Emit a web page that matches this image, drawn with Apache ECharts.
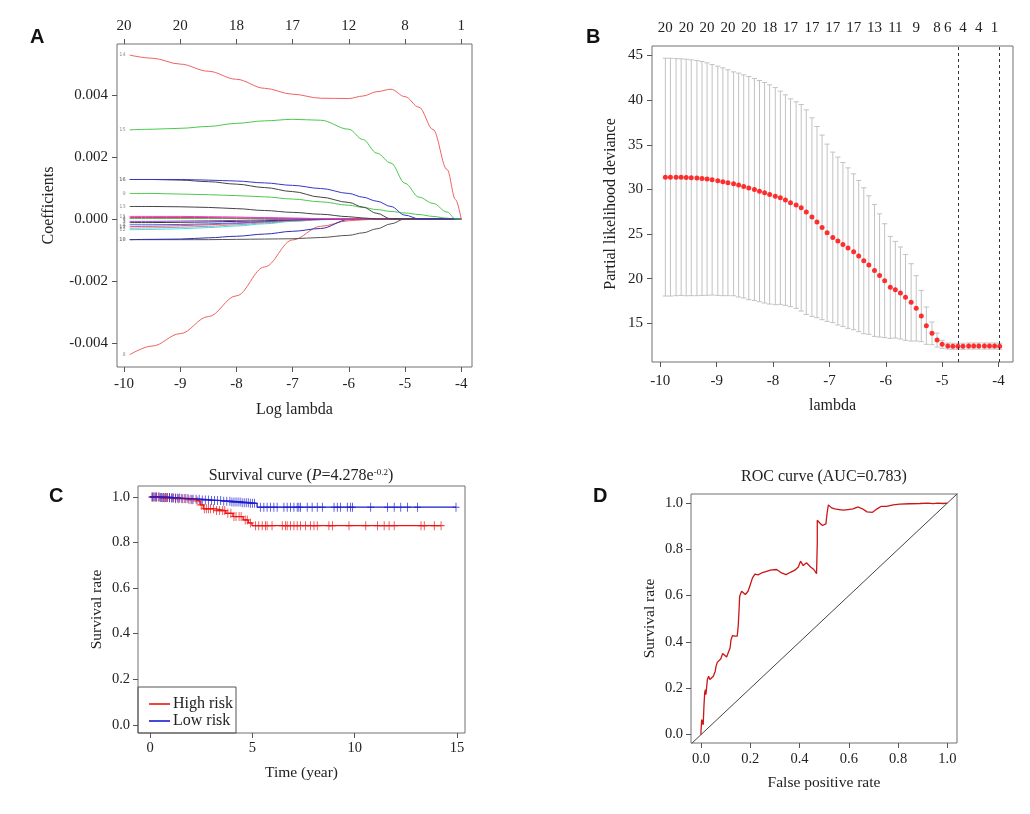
<!DOCTYPE html>
<html><head><meta charset="utf-8">
<script src="https://cdn.jsdelivr.net/npm/echarts@6/dist/echarts.min.js"></script>
<style>html,body{margin:0;padding:0;background:#fff}#c{width:1030px;height:814px}</style>
</head><body><div id="c"></div>
<script>
// ---------- Panel A : LASSO coefficient paths ----------
const logLambdaA = [-9.9,-9.5,-9,-8.5,-8,-7.5,-7,-6.5,-6,-5.75,-5.5,-5.25,-5,-4.75,-4.5,-4.25,-4.1,-4.0];
const coef14 = [0.00528,0.00518,0.00499,0.00476,0.00450,0.00421,0.00402,0.00389,0.00388,0.00396,0.00410,0.00418,0.00394,0.00360,0.00288,0.00159,0.00062,0];
const coef15 = [0.00287,0.00289,0.00292,0.00298,0.00308,0.00316,0.00321,0.00318,0.00289,0.00256,0.00212,0.00180,0.00115,0.00070,0.00050,0.00022,0,0];
const coef16a = [0.00127,0.00127,0.00127,0.00125,0.00122,0.00116,0.00108,0.00098,0.00082,0.00070,0.00057,0.00040,0.00012,0,0,0,0,0];
const coef16b = [0.00127,0.00127,0.00125,0.00120,0.00112,0.00101,0.00088,0.00070,0.00053,0.00038,0.00018,0,0,0,0,0,0,0];
const coef9 = [0.00082,0.00082,0.00080,0.00078,0.00075,0.00071,0.00064,0.00055,0.00044,0.00037,0.00030,0.00024,0.00019,0.00014,0.00008,0.00002,0,0];
const coef13 = [0.00040,0.00040,0.00039,0.00037,0.00033,0.00027,0.00021,0.00015,0.00007,0.00003,0,0,0,0,0,0,0,0];
const coef11 = [0.00008,0.00008,0.00008,0.00007,0.00006,0.00004,0.00002,0.00001,0,0,0,0,0,0,0,0,0,0];
const coef1 = [0.00004,0.00004,0.00004,0.00004,0.00003,0.00003,0.00002,0.00001,0,0,0,0,0,0,0,0,0,0];
const coef4 = [0.00001,0.00001,0.00001,0.00001,0.00001,0.00001,0.00001,0.00001,0.00001,0.00001,0.00001,0,0,0,0,0,0,0];
const coef3 = [-0.00008,-0.00008,-0.00007,-0.00006,-0.00005,-0.00003,-0.00001,0,0,0,0,0,0,0,0,0,0,0];
const coef7 = [-0.00012,-0.00012,-0.00011,-0.00010,-0.00008,-0.00006,-0.00003,-0.00001,0,0,0,0,0,0,0,0,0,0];
const coef2 = [-0.00019,-0.00019,-0.00018,-0.00016,-0.00013,-0.00009,-0.00004,-0.00001,0,0,0,0,0,0,0,0,0,0];
const coef19 = [-0.00025,-0.00024,-0.00022,-0.00019,-0.00015,-0.00010,-0.00005,-0.00002,0,0,0,0,0,0,0,0,0,0];
const coef17 = [-0.00030,-0.00029,-0.00027,-0.00024,-0.00019,-0.00013,-0.00007,-0.00002,0,0,0,0,0,0,0,0,0,0];
const coef12 = [-0.00035,-0.00034,-0.00032,-0.00028,-0.00023,-0.00016,-0.00008,-0.00003,0,0,0,0,0,0,0,0,0,0];
const coef18a = [-0.00067,-0.00066,-0.00065,-0.00061,-0.00056,-0.00049,-0.00040,-0.00031,-0.00002,0,0,0,0,0,0,0,0,0];
const coef18b = [-0.00067,-0.00067,-0.00067,-0.00067,-0.00066,-0.00065,-0.00064,-0.00060,-0.00053,-0.00045,-0.00032,-0.00016,0,0,0,0,0,0];
const coef8 = [-0.00438,-0.00410,-0.00370,-0.00315,-0.00248,-0.00155,-0.00068,-0.00024,-0.00006,-0.00003,-0.00001,0,0,0,0,0,0,0];
const ticksLogLambdaA = [-10,-9,-8,-7,-6,-5,-4];
const topDfA = ['20','20','18','17','12','8','1'];
const ticksCoefA = [-0.004,-0.002,0,0.002,0.004];

// ---------- Panel B : cross-validation curve ----------
const lambdaB = [-9.91,-9.82,-9.72,-9.63,-9.54,-9.45,-9.35,-9.26,-9.17,-9.08,-8.98,-8.89,-8.80,-8.70,-8.61,-8.52,-8.43,-8.33,-8.24,-8.15,-8.06,-7.96,-7.87,-7.78,-7.69,-7.59,-7.50,-7.41,-7.31,-7.22,-7.13,-7.04,-6.94,-6.85,-6.76,-6.67,-6.57,-6.48,-6.39,-6.30,-6.20,-6.11,-6.02,-5.92,-5.83,-5.74,-5.65,-5.55,-5.46,-5.37,-5.28,-5.18,-5.09,-5.00,-4.90,-4.81,-4.72,-4.63,-4.53,-4.44,-4.35,-4.25,-4.16,-4.07,-3.98];
const cvmB = [31.38,31.38,31.38,31.38,31.34,31.31,31.27,31.23,31.16,31.08,30.97,30.86,30.75,30.63,30.49,30.34,30.15,30.00,29.81,29.63,29.44,29.25,29.07,28.81,28.51,28.25,27.95,27.46,26.90,26.34,25.75,25.15,24.63,24.22,23.84,23.43,23.02,22.54,22.01,21.53,20.93,20.37,19.78,19.03,18.77,18.40,17.91,17.35,16.68,15.82,14.74,13.88,13.13,12.65,12.46,12.43,12.43,12.43,12.46,12.46,12.46,12.46,12.46,12.46,12.43];
const cvsdB = [13.32,13.32,13.28,13.25,13.25,13.21,13.17,13.10,13.02,12.91,12.84,12.76,12.65,12.54,12.54,12.50,12.50,12.43,12.39,12.35,12.28,12.16,11.94,11.79,11.64,11.57,11.57,11.46,11.12,10.71,10.34,9.93,9.55,9.40,9.18,8.99,8.73,8.47,8.17,7.76,7.39,6.90,6.38,5.71,5.41,5.15,4.81,4.33,3.66,2.87,2.09,1.27,0.78,0.45,0.34,0.34,0.34,0.34,0.34,0.34,0.34,0.34,0.34,0.34,0.34];
const topIdxB = [0,4,8,12,16,20,24,28,32,36,40,44,48,52,54,57,60,63];
const topDfB = ['20','20','20','20','20','18','17','17','17','17','13','11','9','8','6','4','4','1'];
const lambdaMinB = -4.72;
const lambda1seB = -3.98;
const ticksLambdaB = [-10,-9,-8,-7,-6,-5,-4];
const ticksDevB = [15,20,25,30,35,40,45];

// ---------- Panel C : survival curves ----------
const timeHigh = [0,0.6,1.2,1.8,2.2,2.45,2.6,3.2,3.7,4.05,4.55,4.8,4.98,14.22];
const survHigh = [1,0.996,0.992,0.988,0.982,0.965,0.948,0.94,0.928,0.914,0.899,0.886,0.874,0.874];
const censorHigh = [0.1,0.2,0.3,0.45,0.6,0.7,0.8,0.95,1.1,1.25,1.4,1.6,1.75,1.9,2.05,2.3,2.5,2.65,2.75,2.85,2.95,3.1,3.25,3.4,3.55,3.65,3.8,3.95,4.1,4.2,4.35,4.45,4.65,4.75,4.9,
  5.15,5.31,5.48,5.64,5.72,5.96,6.46,6.62,6.70,6.86,7.03,7.19,7.35,7.60,7.84,8.01,8.17,8.74,8.91,9.72,10.54,11.11,11.44,11.68,11.93,13.24,13.40,13.89,14.22];
const timeLow = [0,0.5,1.0,1.5,2.0,2.5,3.0,3.5,4.0,4.5,4.9,5.23,14.95];
const survLow = [1,0.998,0.995,0.993,0.99,0.987,0.984,0.981,0.978,0.975,0.972,0.955,0.955];
const censorLow = [0.1,0.15,0.25,0.3,0.4,0.5,0.55,0.65,0.75,0.85,0.95,1.05,1.15,1.25,1.35,1.45,1.55,1.7,1.85,2.0,2.1,2.25,2.4,2.55,2.7,2.85,3.0,3.15,3.3,3.45,3.6,3.75,3.9,4.0,4.1,4.2,4.3,4.4,4.5,4.6,4.7,4.8,4.9,5.0,5.1,
  5.39,5.56,5.72,5.88,6.05,6.21,6.54,6.70,6.86,7.03,7.19,7.27,7.35,7.68,7.92,8.17,8.42,8.99,9.15,9.31,9.64,9.80,9.89,10.78,11.60,11.93,12.25,12.58,13.07,14.95];
const ticksTimeC = [0,5,10,15];
const ticksSurvC = [0,0.2,0.4,0.6,0.8,1.0];

// ---------- Panel D : ROC curve ----------
const rocFpr = [0,0,0.003,0.003,0.007,0.009,0.012,0.012,0.015,0.018,0.020,0.023,0.026,0.031,0.036,0.043,0.050,0.054,0.058,0.061,0.066,0.074,0.080,0.088,0.096,0.104,0.112,0.118,0.122,0.128,0.138,0.147,0.151,0.154,0.157,0.165,0.172,0.180,0.191,0.199,0.209,0.219,0.232,0.246,0.263,0.282,0.307,0.327,0.345,0.363,0.381,0.395,0.404,0.415,0.428,0.445,0.458,0.469,0.472,0.472,0.482,0.493,0.507,0.512,0.517,0.530,0.543,0.561,0.577,0.597,0.617,0.638,0.655,0.674,0.696,0.715,0.732,0.753,0.780,0.807,0.847,0.888,0.921,0.942,0.962,0.982,1.0];
const rocTpr = [0,0.014,0.014,0.065,0.065,0.043,0.043,0.122,0.180,0.194,0.173,0.180,0.238,0.252,0.238,0.240,0.252,0.259,0.274,0.295,0.312,0.310,0.327,0.350,0.353,0.335,0.331,0.374,0.410,0.428,0.425,0.425,0.468,0.526,0.598,0.619,0.626,0.605,0.619,0.644,0.677,0.693,0.690,0.698,0.704,0.710,0.713,0.698,0.691,0.701,0.710,0.724,0.749,0.730,0.742,0.724,0.713,0.695,0.828,0.926,0.914,0.903,0.910,0.958,0.992,0.979,0.975,0.972,0.969,0.972,0.975,0.983,0.975,0.962,0.960,0.975,0.986,0.986,0.992,0.995,0.997,0.998,1.0,0.997,1.0,0.998,1.0];
const diagD = [-0.05,1.05];
const ticksRateD = [0,0.2,0.4,0.6,0.8,1.0];

// ---------- build ----------
const SERIF = "'Liberation Serif','Times New Roman',serif";
const TXT = '#222';
const BORDER = '#707070';

function lookup(xs, labels){ return v => { for (let i=0;i<xs.length;i++){ if (Math.abs(xs[i]-v)<1e-6) return labels[i]; } return ''; }; }
function stepAt(ts, ss, t){ let s = ss[0]; for (let i=0;i<ts.length;i++){ if (ts[i] <= t) s = ss[i]; } return s; }

function valAxis(o){
  return {
    type:'value', gridIndex:o.grid, min:o.min, max:o.max, position:o.position,
    axisLine:{show:false, onZero:false},
    axisTick:{show:o.tick!==false, length:5, inside:false, customValues:o.ticks, lineStyle:{color:'#555',width:1}},
    axisLabel:{show:true, customValues:o.ticks, margin:o.margin, fontSize:o.fs||15, fontFamily:SERIF, color:TXT, formatter:o.fmt, hideOverlap:false},
    splitLine:{show:false}, splitArea:{show:false},
    name:o.name||'', nameLocation:'middle', nameGap:o.gap||30, nameMoveOverlap:false,
    nameTextStyle:{fontSize:o.nfs||16, fontFamily:SERIF, color:TXT}
  };
}

const pathsA = [
  [coef8,'8','#f06262'],[coef18b,'10','#555555'],[coef18a,'18','#2f2fb4'],
  [coef12,'12','#3fe0e6'],[coef17,'17','#a0a0a0'],[coef19,'19','#f0506a'],[coef2,'2','#4466f0'],
  [coef7,'7','#333333'],[coef3,'3','#9a44d8'],[coef4,'4','#4cc84c'],[coef1,'1','#cc2244'],[coef11,'11','#e040d0'],
  [coef13,'13','#444444'],[coef9,'9','#4cc84c'],[coef16b,'16','#444444'],[coef16a,'16','#3535cc'],
  [coef15,'15','#4cc84c'],[coef14,'14','#f06262']
];

const series = [];
pathsA.forEach(([vals, lab, col]) => {
  series.push({type:'line', xAxisIndex:0, yAxisIndex:0, data: logLambdaA.map((x,i)=>[x, vals[i]]),
    symbol:'none', smooth:0.35, smoothMonotone:'x', lineStyle:{color:col, width:1}, silent:true, z:2});
});
series.push({type:'scatter', xAxisIndex:0, yAxisIndex:0, symbolSize:0, silent:true,
  data: pathsA.map(([vals, lab]) => [logLambdaA[0], vals[0], lab]),
  label:{show:true, position:'left', distance:4, fontSize:5, color:'#777', fontFamily:'DejaVu Sans', formatter:p=>p.value[2]}});

// Panel B
series.push({type:'custom', xAxisIndex:2, yAxisIndex:1, silent:true, z:2,
  data: lambdaB.map((l,i)=>[l, cvmB[i]-cvsdB[i], cvmB[i]+cvsdB[i]]),
  encode:{x:0, y:[1,2]},
  renderItem:(params, api) => {
    const x = api.value(0), lo = api.value(1), hi = api.value(2);
    const a = api.coord([x, hi]), b = api.coord([x, lo]);
    const w = 2.6, st = {stroke:'#c2c2c2', lineWidth:1};
    return {type:'group', children:[
      {type:'line', shape:{x1:a[0], y1:a[1], x2:b[0], y2:b[1]}, style:st},
      {type:'line', shape:{x1:a[0]-w, y1:a[1], x2:a[0]+w, y2:a[1]}, style:st},
      {type:'line', shape:{x1:b[0]-w, y1:b[1], x2:b[0]+w, y2:b[1]}, style:st}
    ]};
  }});
series.push({type:'scatter', xAxisIndex:2, yAxisIndex:1, symbol:'circle', symbolSize:5, silent:true, z:3,
  itemStyle:{color:'#ff0000'}, data: lambdaB.map((l,i)=>[l, cvmB[i]]),
  markLine:{silent:true, symbol:'none', label:{show:false}, lineStyle:{type:[3,3], color:'#333', width:1},
    data:[{xAxis:lambdaMinB},{xAxis:lambda1seB}]}});

// Panel C
const plusSym = 'path://M4.4,0 H5.6 V4.4 H10 V5.6 H5.6 V10 H4.4 V5.6 H0 V4.4 H4.4 Z';
series.push({type:'line', name:'High risk', xAxisIndex:4, yAxisIndex:2, step:'end', symbol:'none', silent:true,
  data: timeHigh.map((t,i)=>[t, survHigh[i]]), lineStyle:{color:'#ee1111', width:1.3}, itemStyle:{color:'#ee1111'}});
series.push({type:'scatter', name:'High risk censored', xAxisIndex:4, yAxisIndex:2, symbol:plusSym, symbolSize:[7,9], silent:true,
  data: censorHigh.map(t=>[t, stepAt(timeHigh, survHigh, t)]), itemStyle:{color:'#ee1111'}});
series.push({type:'line', name:'Low risk', xAxisIndex:4, yAxisIndex:2, step:'end', symbol:'none', silent:true,
  data: timeLow.map((t,i)=>[t, survLow[i]]), lineStyle:{color:'#1a1ad0', width:1.3}, itemStyle:{color:'#1a1ad0'}});
series.push({type:'scatter', name:'Low risk censored', xAxisIndex:4, yAxisIndex:2, symbol:plusSym, symbolSize:[7,9], silent:true,
  data: censorLow.map(t=>[t, stepAt(timeLow, survLow, t)]), itemStyle:{color:'#1a1ad0'}});

// Panel D
series.push({type:'line', xAxisIndex:5, yAxisIndex:3, symbol:'none', silent:true,
  data: diagD.map(v=>[v,v]), lineStyle:{color:'#444', width:1}});
series.push({type:'line', xAxisIndex:5, yAxisIndex:3, symbol:'none', silent:true,
  data: rocFpr.map((x,i)=>[x, rocTpr[i]]), lineStyle:{color:'#cc1515', width:1.3}});

const f1 = v => v.toFixed(1);
const option = {
  animation:false,
  backgroundColor:'#ffffff',
  grid:[
    {left:117, top:44, width:355, height:323, show:true, borderColor:BORDER, borderWidth:1, outerBoundsMode:'none'},
    {left:652, top:46, width:361, height:316, show:true, borderColor:BORDER, borderWidth:1, outerBoundsMode:'none'},
    {left:138, top:486, width:327, height:247, show:true, borderColor:BORDER, borderWidth:1, outerBoundsMode:'none'},
    {left:691, top:494, width:266, height:249, show:true, borderColor:BORDER, borderWidth:1, outerBoundsMode:'none'}
  ],
  xAxis:[
    valAxis({grid:0, min:-10.125, max:-3.807, position:'bottom', ticks:ticksLogLambdaA, margin:10, fmt:v=>String(v), name:'Log lambda', gap:35}),
    valAxis({grid:0, min:-10.125, max:-3.807, position:'top', ticks:ticksLogLambdaA, margin:10, fmt:lookup(ticksLogLambdaA, topDfA)}),
    valAxis({grid:1, min:-10.147, max:-3.743, position:'bottom', ticks:ticksLambdaB, margin:12, fmt:v=>String(v), name:'lambda', gap:36}),
    valAxis({grid:1, min:-10.147, max:-3.743, position:'top', ticks:topIdxB.map(i=>lambdaB[i]), tick:false, margin:10, fmt:lookup(topIdxB.map(i=>lambdaB[i]), topDfB)}),
    valAxis({grid:2, min:-0.59, max:15.39, position:'bottom', ticks:ticksTimeC, margin:8, fs:14.5, fmt:v=>String(v), name:'Time (year)', gap:32, nfs:15.5}),
    valAxis({grid:3, min:-0.0405, max:1.039, position:'bottom', ticks:ticksRateD, margin:9, fs:14.5, fmt:f1, name:'False positive rate', gap:32, nfs:15.5})
  ],
  yAxis:[
    valAxis({grid:0, min:-0.004775, max:0.005638, position:'left', ticks:ticksCoefA, margin:9, fmt:v=>v.toFixed(3), name:'Coefficients', gap:60}),
    valAxis({grid:1, min:10.67, max:46.07, position:'left', ticks:ticksDevB, margin:9, fmt:v=>String(v), name:'Partial likelihood deviance', gap:33}),
    valAxis({grid:2, min:-0.036, max:1.048, position:'left', ticks:ticksSurvC, margin:8, fs:14.5, fmt:f1, name:'Survival rate', gap:33, nfs:15.5}),
    valAxis({grid:3, min:-0.036, max:1.039, position:'left', ticks:ticksRateD, margin:8, fs:14.5, fmt:f1, name:'Survival rate', gap:33, nfs:15.5})
  ],
  title:[
    {text:'{a|Survival curve (}{i|P}{a|=4.278e}{s|-0.2}{a|)}', left:301, top:468, textAlign:'center', padding:0,
      textStyle:{fontWeight:'normal', rich:{a:{fontSize:16, fontWeight:'normal', fontFamily:SERIF, color:TXT}, i:{fontSize:16, fontWeight:'normal', fontFamily:SERIF, fontStyle:'italic', color:TXT}, s:{fontSize:9, fontWeight:'normal', fontFamily:SERIF, color:TXT, verticalAlign:'top'}}}},
    {text:'ROC curve (AUC=0.783)', left:824, top:469, textAlign:'center', padding:0,
      textStyle:{fontSize:16, fontWeight:'normal', fontFamily:SERIF, color:TXT}}
  ],
  legend:{data:['High risk','Low risk'], left:138, top:687, orient:'vertical', itemGap:1, itemWidth:21, itemHeight:1.6, icon:'rect',
    padding:[9,3,4,11], borderColor:'#555', borderWidth:1, borderRadius:0, selectedMode:false,
    textStyle:{fontSize:16, fontFamily:SERIF, color:TXT, lineHeight:16, padding:[0,0,0,-2]}},
  graphic:[
    {type:'text', left:30, top:27, style:{text:'A', font:"bold 20px 'Liberation Sans', Arial, sans-serif", fill:'#111'}},
    {type:'text', left:586, top:27, style:{text:'B', font:"bold 20px 'Liberation Sans', Arial, sans-serif", fill:'#111'}},
    {type:'text', left:49, top:486, style:{text:'C', font:"bold 20px 'Liberation Sans', Arial, sans-serif", fill:'#111'}},
    {type:'text', left:593, top:486, style:{text:'D', font:"bold 20px 'Liberation Sans', Arial, sans-serif", fill:'#111'}}
  ],
  series: series
};
const chart = echarts.init(document.getElementById('c'), null, {renderer:'canvas'});
chart.setOption(option);
</script></body></html>
